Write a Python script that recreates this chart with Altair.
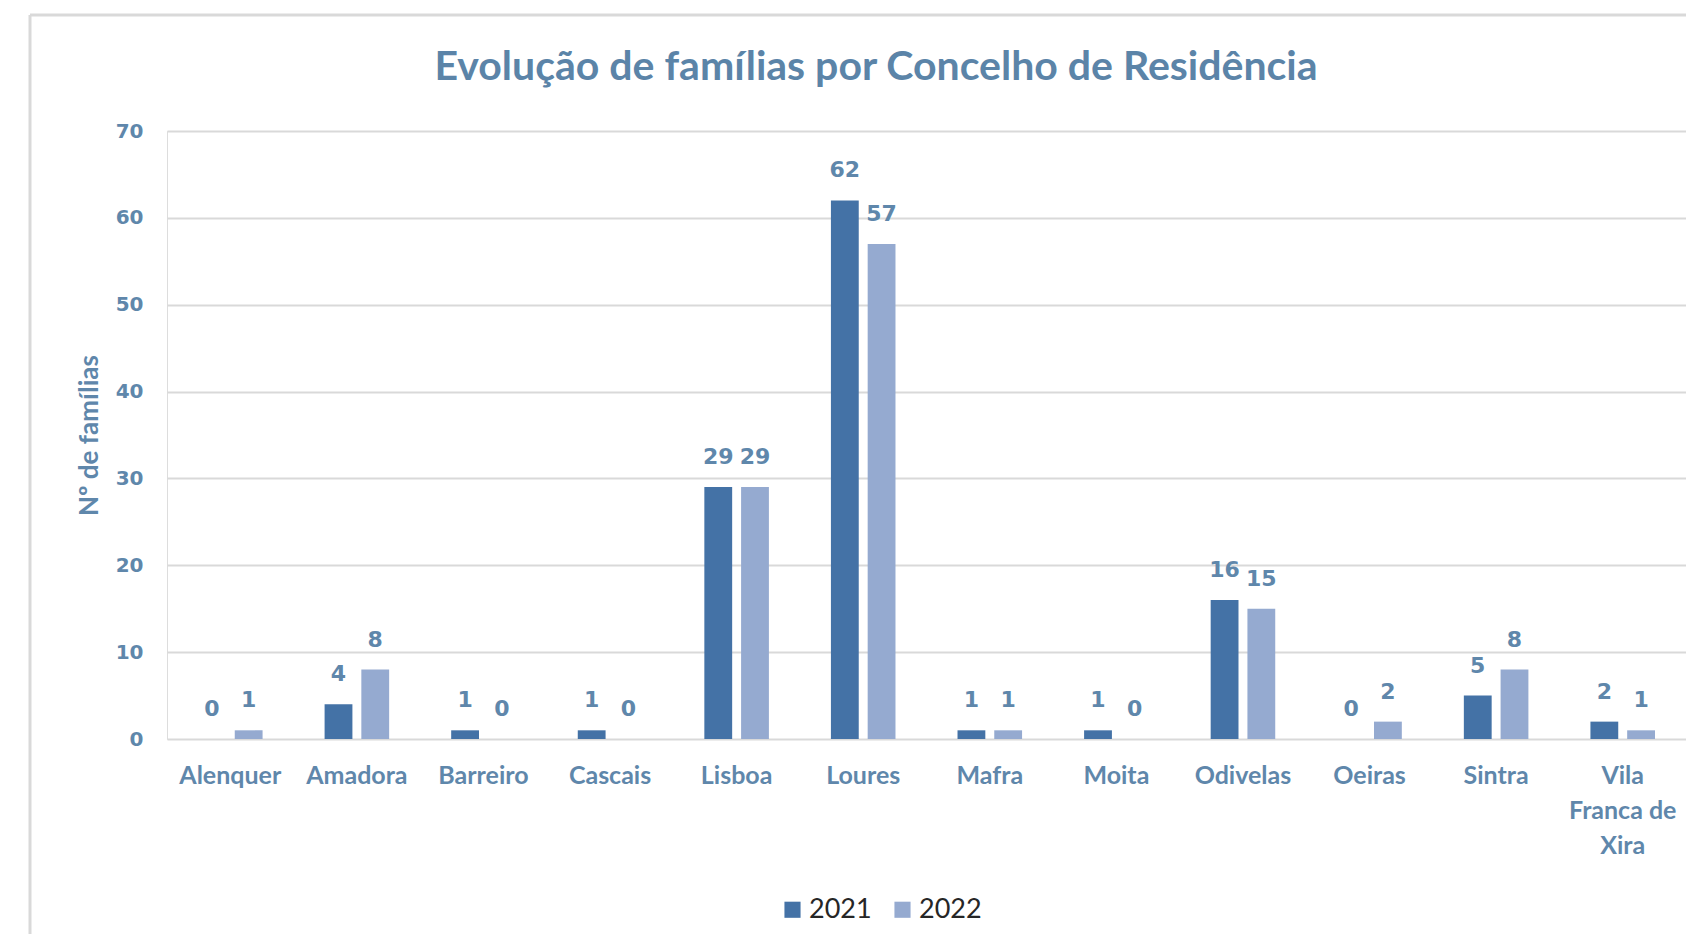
import altair as alt
import pandas as pd

titulo = "Evolução de famílias por Concelho de Residência"
concelhos = ["Alenquer", "Amadora", "Barreiro", "Cascais", "Lisboa", "Loures",
             "Mafra", "Moita", "Odivelas", "Oeiras", "Sintra", "Vila Franca de Xira"]
v2021 = [0, 4, 1, 1, 29, 62, 1, 1, 16, 0, 5, 2]
v2022 = [1, 8, 0, 0, 29, 57, 1, 0, 15, 2, 8, 1]
anos = ["2021", "2022"]
y_ticks = [0, 10, 20, 30, 40, 50, 60, 70]

rows = []
for c, a, b in zip(concelhos, v2021, v2022):
    rows.append({"Concelho": c, "Ano": anos[0], "Valor": a})
    rows.append({"Concelho": c, "Ano": anos[1], "Valor": b})
df = pd.DataFrame(rows)

BLUE_TXT = "#5f87ab"
colors = ["#4472a6", "#95aad0"]

x_enc = alt.X("Concelho:N", sort=concelhos,
              scale=alt.Scale(paddingInner=0.49, paddingOuter=0.245),
              axis=alt.Axis(title=None, labelAngle=0, domain=False, ticks=False,
                            labelPadding=24, labelBaseline="top",
                            labelFont="Lato", labelFontWeight="bold",
                            labelFontSize=25, labelColor=BLUE_TXT,
                            labelLineHeight=35,
                            labelExpr="datum.value == 'Vila Franca de Xira' ? ['Vila','Franca de','Xira'] : datum.value"))
xo_enc = alt.XOffset("Ano:N", sort=anos, scale=alt.Scale(paddingInner=0.243, paddingOuter=0))
y_enc = alt.Y("Valor:Q", scale=alt.Scale(domain=[0, 70], nice=False),
              axis=alt.Axis(values=y_ticks, title="Nº de famílias", domain=False, ticks=False,
                            labelPadding=24, labelFont="DejaVu Sans", labelFontWeight="bold",
                            labelFontSize=20, labelColor=BLUE_TXT,
                            gridColor="#d9d9d9", gridWidth=2,
                            titleFont="Lato", titleFontWeight="bold", titleFontSize=26,
                            titleColor=BLUE_TXT, titleAngle=-90, titleX=-78, titleY=304,
                            titleAlign="center", titleBaseline="middle"))

bars = alt.Chart(df).mark_bar().encode(
    x=x_enc, xOffset=xo_enc, y=y_enc,
    color=alt.Color("Ano:N", sort=anos, scale=alt.Scale(domain=anos, range=colors),
                    legend=alt.Legend(title=None, orient="none", direction="horizontal",
                                      legendX=612, legendY=765, symbolType="square",
                                      symbolSize=260, symbolStrokeWidth=0,
                                      labelFont="Lato", labelFontSize=27,
                                      labelColor="#262626", labelOffset=3,
                                      columnPadding=17))
)

labels = alt.Chart(df).mark_text(baseline="bottom", dy=-18, font="DejaVu Sans",
                                 fontWeight="bold", fontSize=22, color=BLUE_TXT).encode(
    x=alt.X("Concelho:N", sort=concelhos), xOffset=alt.XOffset("Ano:N", sort=anos),
    y="Valor:Q", text="Valor:Q"
)

frame_df = pd.DataFrame({"f": [0]})
frame_top = alt.Chart(frame_df).mark_rule(color="#d9d9d9", strokeWidth=3).encode(
    x=alt.value(-137), x2=alt.value(1540), y=alt.value(-116))
frame_left = alt.Chart(frame_df).mark_rule(color="#d9d9d9", strokeWidth=3).encode(
    x=alt.value(-137), y=alt.value(-116), y2=alt.value(820))
title_mark = alt.Chart(frame_df).mark_text(
    text=titulo, font="Lato", fontWeight="bold", fontSize=41, color="#5b84a8",
    align="center", baseline="middle").encode(x=alt.value(709), y=alt.value(-63))

chart = alt.layer(frame_top, frame_left, title_mark, bars, labels).properties(
    width=1519, height=608,
    autosize=alt.AutoSizeParams(type="none"),
    padding={"left": 159, "top": 123, "right": 0, "bottom": 195},
).configure_view(stroke=None).configure(background="white")

chart.save("out.html", embed_options={"renderer": "svg", "actions": False})
